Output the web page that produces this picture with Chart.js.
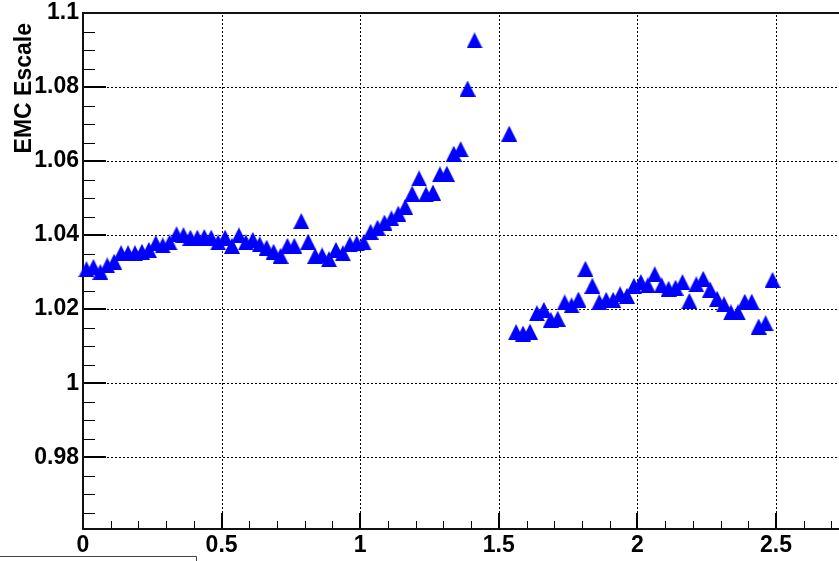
<!DOCTYPE html>
<html>
<head>
<meta charset="utf-8">
<script src="https://cdn.jsdelivr.net/npm/chart.js@4.4.1/dist/chart.umd.min.js"></script>
<style>
  html, body { margin: 0; padding: 0; background: #fff; overflow: hidden; }
  canvas { display: block; }
</style>
</head>
<body>
<canvas id="c" width="839" height="561"></canvas>
<script>
// eta bin centres (bins of 0.025; the 1.4375-1.5125 bins are empty)
const etaCenters = [
  0.0125, 0.0375, 0.0625, 0.0875, 0.1125, 0.1375, 0.1625, 0.1875, 0.2125, 0.2375,
  0.2625, 0.2875, 0.3125, 0.3375, 0.3625, 0.3875, 0.4125, 0.4375, 0.4625, 0.4875,
  0.5125, 0.5375, 0.5625, 0.5875, 0.6125, 0.6375, 0.6625, 0.6875, 0.7125, 0.7375,
  0.7625, 0.7875, 0.8125, 0.8375, 0.8625, 0.8875, 0.9125, 0.9375, 0.9625, 0.9875,
  1.0125, 1.0375, 1.0625, 1.0875, 1.1125, 1.1375, 1.1625, 1.1875, 1.2125, 1.2375,
  1.2625, 1.2875, 1.3125, 1.3375, 1.3625, 1.3875, 1.4125,
  1.5375, 1.5625, 1.5875, 1.6125, 1.6375, 1.6625, 1.6875, 1.7125, 1.7375, 1.7625,
  1.7875, 1.8125, 1.8375, 1.8625, 1.8875, 1.9125, 1.9375, 1.9625, 1.9875, 2.0125,
  2.0375, 2.0625, 2.0875, 2.1125, 2.1375, 2.1625, 2.1875, 2.2125, 2.2375, 2.2625,
  2.2875, 2.3125, 2.3375, 2.3625, 2.3875, 2.4125, 2.4375, 2.4625, 2.4875
];

// EMC energy scale per eta bin
const emcEscale = [
  1.0308, 1.0314, 1.0300, 1.0318, 1.0328, 1.0351, 1.0351, 1.0351, 1.0355, 1.0360,
  1.0378, 1.0372, 1.0380, 1.0402, 1.0400, 1.0393, 1.0393, 1.0395, 1.0393, 1.0380,
  1.0393, 1.0371, 1.0399, 1.0380, 1.0387, 1.0375, 1.0366, 1.0355, 1.0344, 1.0371,
  1.0371, 1.0438, 1.0382, 1.0344, 1.0345, 1.0335, 1.0360, 1.0351, 1.0375, 1.0378,
  1.0380, 1.0409, 1.0420, 1.0434, 1.0445, 1.0458, 1.0476, 1.0512, 1.0553, 1.0510,
  1.0515, 1.0564, 1.0566, 1.0620, 1.0632, 1.0796, 1.0926,
  1.0674, 1.0138, 1.0134, 1.0139, 1.0189, 1.0198, 1.0171, 1.0174, 1.0218, 1.0210,
  1.0226, 1.0309, 1.0263, 1.0219, 1.0225, 1.0225, 1.0240, 1.0236, 1.0263, 1.0273,
  1.0264, 1.0294, 1.0264, 1.0255, 1.0258, 1.0273, 1.0222, 1.0267, 1.0282, 1.0253,
  1.0228, 1.0213, 1.0191, 1.0191, 1.0220, 1.0220, 1.0153, 1.0162, 1.0279
];

const xTickValues = [0, 0.5, 1, 1.5, 2, 2.5];
const xTickLabels = ['0', '0.5', '1', '1.5', '2', '2.5'];
const yTickValues = [0.98, 1, 1.02, 1.04, 1.06, 1.08, 1.1];
const yTickLabels = ['0.98', '1', '1.02', '1.04', '1.06', '1.08', '1.1'];
const yTitle = 'EMC Escale';

const X_MIN = 0, X_MAX = 2.7273;
const Y_MIN = 0.9606, Y_MAX = 1.1;
const FAMILY = '"Liberation Sans", Arial, Helvetica, sans-serif';

// filled upward triangle, centred on its bounding box
function triangleMarker(size, color) {
  const c = document.createElement('canvas');
  c.width = size; c.height = size;
  const g = c.getContext('2d');
  g.fillStyle = color;
  g.beginPath();
  g.moveTo(0, size);
  g.lineTo(size, size);
  g.lineTo(size / 2, 0);
  g.closePath();
  g.fill();
  return c;
}

// dotted grid, frame and inward-pointing tick marks
const framePlugin = {
  id: 'frame',
  beforeDatasetsDraw(chart) {
    const { ctx, chartArea: a, scales: { x, y } } = chart;
    ctx.save();

    // grid
    ctx.strokeStyle = '#000';
    ctx.lineWidth = 1;
    ctx.setLineDash([2, 2]);
    ctx.beginPath();
    xTickValues.forEach(v => {
      if (v <= X_MIN) return;
      const px = Math.round(x.getPixelForValue(v)) + 0.5;
      ctx.moveTo(px, a.bottom);
      ctx.lineTo(px, a.top);
    });
    yTickValues.forEach(v => {
      if (v >= Y_MAX) return;
      const py = Math.round(y.getPixelForValue(v)) + 0.5;
      ctx.moveTo(a.left, py);
      ctx.lineTo(a.right, py);
    });
    ctx.stroke();
    ctx.setLineDash([]);

    // x tick marks (major every 0.5, minor every 0.1)
    for (let i = 1; i * 0.1 <= X_MAX; i++) {
      const major = i % 5 === 0;
      const px = Math.round(x.getPixelForValue(i * 0.1)) + (major ? 0 : 0.5);
      ctx.lineWidth = major ? 2 : 1;
      ctx.beginPath();
      ctx.moveTo(px, a.bottom);
      ctx.lineTo(px, a.bottom - (major ? 16 : 8));
      ctx.stroke();
    }
    // y tick marks (major every 0.02, minor every 0.005)
    for (let i = 0; ; i++) {
      const v = 0.965 + i * 0.005;
      if (v > Y_MAX - 0.001) break;
      const major = Math.abs(Math.round(v / 0.02) * 0.02 - v) < 1e-6;
      const py = Math.round(y.getPixelForValue(v)) + (major ? 0 : 0.5);
      ctx.lineWidth = major ? 2 : 1;
      ctx.beginPath();
      ctx.moveTo(a.left, py);
      ctx.lineTo(a.left + (major ? 23 : 12), py);
      ctx.stroke();
    }

    // frame: top, left and bottom edges
    ctx.lineWidth = 2;
    ctx.strokeStyle = '#111';
    ctx.beginPath();
    ctx.moveTo(a.right, a.top);
    ctx.lineTo(a.left, a.top);
    ctx.lineTo(a.left, a.bottom);
    ctx.lineTo(a.right, a.bottom);
    ctx.stroke();

    // axis title
    ctx.fillStyle = '#000';
    ctx.font = 'bold 23px ' + FAMILY;
    ctx.translate(31, 23);
    ctx.rotate(-Math.PI / 2);
    ctx.textAlign = 'right';
    ctx.textBaseline = 'alphabetic';
    ctx.fillText(yTitle, 0, 0);
    ctx.restore();
  },
  afterDraw(chart) {
    // edge of the neighbouring box at the lower left
    const { ctx } = chart;
    ctx.save();
    ctx.strokeStyle = '#444';
    ctx.lineWidth = 1;
    ctx.beginPath();
    ctx.moveTo(0, 556.5);
    ctx.lineTo(196.5, 556.5);
    ctx.lineTo(196.5, 570);
    ctx.stroke();
    ctx.restore();
  }
};

const points = etaCenters.map((e, i) => ({ x: e, y: emcEscale[i] }));

new Chart(document.getElementById('c'), {
  type: 'scatter',
  data: {
    datasets: [{
      data: points,
      pointStyle: triangleMarker(16, '#0000ff'),
      pointRadius: 8,
      pointHoverRadius: 8,
      backgroundColor: '#0000ff',
      borderColor: '#0000ff',
      clip: false
    }]
  },
  plugins: [framePlugin],
  options: {
    responsive: false,
    animation: false,
    events: [],
    layout: { autoPadding: false, padding: { top: 13, right: 0, bottom: 0, left: 0 } },
    plugins: { legend: { display: false }, tooltip: { enabled: false }, title: { display: false } },
    scales: {
      x: {
        type: 'linear',
        min: X_MIN,
        max: X_MAX,
        afterBuildTicks: s => { s.ticks = xTickValues.map(v => ({ value: v })); },
        afterFit: s => { s.height = 32; s.paddingLeft = 0; s.paddingRight = 0; },
        grid: { display: false, drawTicks: false },
        border: { display: false },
        ticks: {
          autoSkip: false,
          maxRotation: 0,
          padding: 3,
          color: '#000',
          font: { family: FAMILY, size: 23, weight: 'bold' },
          callback: (v, i) => xTickLabels[i]
        }
      },
      y: {
        type: 'linear',
        min: Y_MIN,
        max: Y_MAX,
        afterBuildTicks: s => { s.ticks = yTickValues.map(v => ({ value: v })); },
        afterFit: s => { s.width = 83; s.paddingTop = 0; s.paddingBottom = 0; },
        grid: { display: false, drawTicks: false },
        border: { display: false },
        ticks: {
          autoSkip: false,
          padding: 4,
          color: '#000',
          font: { family: FAMILY, size: 23, weight: 'bold' },
          callback: (v, i) => yTickLabels[i]
        }
      }
    }
  }
});
</script>
</body>
</html>
